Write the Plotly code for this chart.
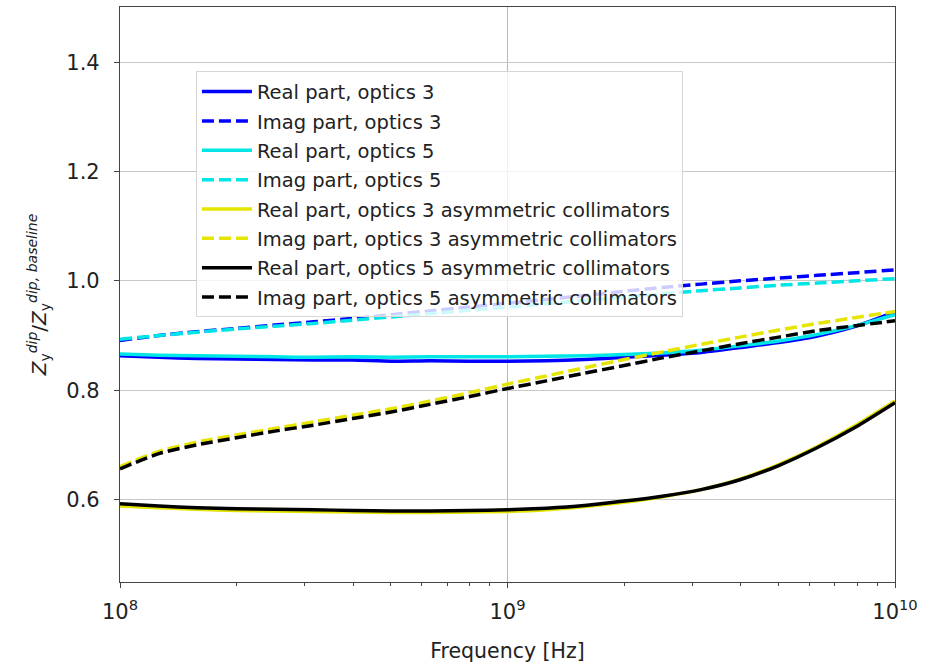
import plotly.graph_objects as go

# Frequency samples (Hz), evenly spaced in log10 from 1e8 to 1e10
freq_hz = [1.0e8, 1.26e8, 1.58e8, 2.0e8, 2.51e8, 3.16e8, 3.98e8, 5.01e8, 6.31e8, 7.94e8,
           1.0e9, 1.26e9, 1.58e9, 2.0e9, 2.51e9, 3.16e9, 3.98e9, 5.01e9, 6.31e9, 7.94e9, 1.0e10]

# Normalised impedance ratios
real_opt3 = [0.863, 0.860, 0.858, 0.857, 0.856, 0.855, 0.855, 0.853, 0.854, 0.853, 0.853,
             0.854, 0.856, 0.860, 0.864, 0.869, 0.878, 0.887, 0.899, 0.917, 0.943]
imag_opt3 = [0.891, 0.900, 0.907, 0.913, 0.919, 0.925, 0.931, 0.938, 0.945, 0.952, 0.959,
             0.966, 0.973, 0.981, 0.988, 0.994, 1.000, 1.005, 1.010, 1.015, 1.020]
real_opt5 = [0.866, 0.864, 0.863, 0.862, 0.861, 0.860, 0.861, 0.860, 0.861, 0.861, 0.861,
             0.862, 0.863, 0.865, 0.868, 0.873, 0.881, 0.890, 0.902, 0.918, 0.938]
imag_opt5 = [0.893, 0.900, 0.906, 0.912, 0.917, 0.922, 0.928, 0.934, 0.940, 0.946, 0.952,
             0.958, 0.964, 0.970, 0.976, 0.982, 0.987, 0.992, 0.996, 1.000, 1.004]
real_opt3_asym = [0.588, 0.585, 0.582, 0.580, 0.579, 0.578, 0.577, 0.576, 0.576, 0.577, 0.578,
                  0.581, 0.587, 0.595, 0.605, 0.618, 0.637, 0.664, 0.697, 0.736, 0.780]
imag_opt3_asym = [0.660, 0.688, 0.705, 0.718, 0.730, 0.742, 0.754, 0.766, 0.780, 0.795, 0.811,
                  0.826, 0.841, 0.856, 0.870, 0.884, 0.897, 0.910, 0.922, 0.933, 0.944]
real_opt5_asym = [0.592, 0.588, 0.585, 0.583, 0.582, 0.581, 0.580, 0.579, 0.579, 0.580, 0.581,
                  0.584, 0.589, 0.597, 0.606, 0.618, 0.636, 0.662, 0.695, 0.733, 0.777]
imag_opt5_asym = [0.656, 0.684, 0.700, 0.713, 0.725, 0.736, 0.748, 0.760, 0.774, 0.788, 0.803,
                  0.817, 0.831, 0.845, 0.859, 0.872, 0.885, 0.897, 0.909, 0.918, 0.927]

series = [
    ("Real part, optics 3", real_opt3, "#0000ff", "solid"),
    ("Imag part, optics 3", imag_opt3, "#0000ff", "dash"),
    ("Real part, optics 5", real_opt5, "#00e5e5", "solid"),
    ("Imag part, optics 5", imag_opt5, "#00e5e5", "dash"),
    ("Real part, optics 3 asymmetric collimators", real_opt3_asym, "#e5e500", "solid"),
    ("Imag part, optics 3 asymmetric collimators", imag_opt3_asym, "#e5e500", "dash"),
    ("Real part, optics 5 asymmetric collimators", real_opt5_asym, "#000000", "solid"),
    ("Imag part, optics 5 asymmetric collimators", imag_opt5_asym, "#000000", "dash"),
]

x_major = [1e8, 1e9, 1e10]
x_major_text = ["10<sup>8</sup>", "10<sup>9</sup>", "10<sup>10</sup>"]
x_minor = [m * d for d in (1e8, 1e9) for m in range(2, 10)]
y_ticks = [0.6, 0.8, 1.0, 1.2, 1.4]

FONT = "DejaVu Sans"
fig = go.Figure()
for i, (name, vals, color, dash) in enumerate(series):
    fig.add_trace(go.Scatter(
        x=freq_hz, y=vals, mode="lines", name=name, legendgroup=f"g{i}",
        line=dict(color=color, width=3.5, dash="12px,5px" if dash == "dash" else "solid",
                  shape="spline", smoothing=0.6),
    ))

fig.update_layout(
    width=936, height=665,
    margin=dict(l=120, r=41, t=6, b=80),
    plot_bgcolor="white", paper_bgcolor="white",
    font=dict(family=FONT, size=20, color="#222222"),
    showlegend=True,
    legend=dict(
        x=0.098, y=0.888, xanchor="left", yanchor="top",
        bgcolor="rgba(255,255,255,0.8)", bordercolor="#d6d6d6", borderwidth=1,
        font=dict(family=FONT, size=19.5, color="#222222"),
        tracegroupgap=1, itemwidth=50,
    ),
)
fig.update_xaxes(
    type="log", range=[8, 10],
    tickmode="array", tickvals=x_major, ticktext=x_major_text,
    ticks="outside", ticklen=5, tickcolor="#444444", ticklabelstandoff=6,
    tickfont=dict(size=21),
    minor=dict(tickmode="array", tickvals=x_minor, ticks="outside", ticklen=3,
               tickcolor="#444444", showgrid=False),
    showgrid=True, gridcolor="#b8b8b8", gridwidth=1,
    showline=True, mirror=True, linecolor="#444444", linewidth=1.2,
    zeroline=False,
    title=dict(text="Frequency [Hz]", standoff=20, font=dict(size=20.5)),
)
fig.update_yaxes(
    range=[0.449, 1.501],
    tickmode="array", tickvals=y_ticks, ticktext=[f"{v:.1f}" for v in y_ticks],
    ticks="outside", ticklen=5, tickcolor="#444444",
    tickfont=dict(size=21),
    showgrid=True, gridcolor="#c8c8c8", gridwidth=1,
    showline=True, mirror=True, linecolor="#444444", linewidth=1.2,
    zeroline=False, ticklabelstandoff=10,
    title=dict(
        text="<i>Z</i><sub>y</sub><sup><i>dip</i></sup>/<i>Z</i><sub>y</sub><sup><i>dip, baseline</i></sup>",
        standoff=14, font=dict(size=20)),
)

fig.write_html("out.html")
